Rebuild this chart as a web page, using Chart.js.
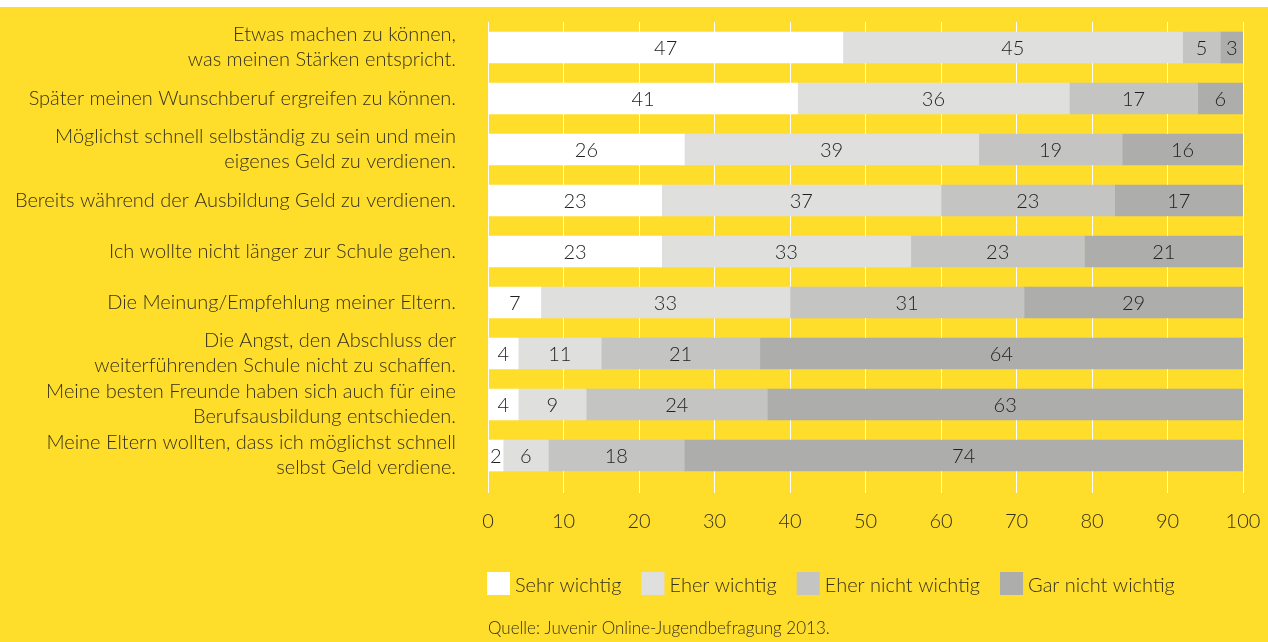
<!DOCTYPE html>
<html lang="de">
<head>
<meta charset="utf-8">
<script src="https://cdn.jsdelivr.net/npm/chart.js@4/dist/chart.umd.min.js"></script>
<style>
  html, body { margin: 0; padding: 0; background: #FFDD2B; }
  #top { height: 7px; background: #fff; }
  #wrap { width: 1268px; height: 635px; position: relative; }
</style>
</head>
<body>
<div id="top"></div>
<div id="wrap"><canvas id="grafico"></canvas></div>
<script>
// Gründe für die Berufsausbildung (Anteile in %)
const gruende = [
  ['Etwas machen zu können,', 'was meinen Stärken entspricht.'],
  'Später meinen Wunschberuf ergreifen zu können.',
  ['Möglichst schnell selbständig zu sein und mein', 'eigenes Geld zu verdienen.'],
  'Bereits während der Ausbildung Geld zu verdienen.',
  'Ich wollte nicht länger zur Schule gehen.',
  'Die Meinung/Empfehlung meiner Eltern.',
  ['Die Angst, den Abschluss der', 'weiterführenden Schule nicht zu schaffen.'],
  ['Meine besten Freunde haben sich auch für eine', 'Berufsausbildung entschieden.'],
  ['Meine Eltern wollten, dass ich möglichst schnell', 'selbst Geld verdiene.']
];

const sehrWichtig      = [47, 41, 26, 23, 23, 7, 4, 4, 2];
const eherWichtig      = [45, 36, 39, 37, 33, 33, 11, 9, 6];
const eherNichtWichtig = [5, 17, 19, 23, 23, 31, 21, 24, 18];
const garNichtWichtig  = [3, 6, 16, 17, 21, 29, 64, 63, 74];

const serienNamen = ['Sehr wichtig', 'Eher wichtig', 'Eher nicht wichtig', 'Gar nicht wichtig'];
const xTicks = [0, 10, 20, 30, 40, 50, 60, 70, 80, 90, 100];
const quelle = 'Quelle: Juvenir Online-Jugendbefragung 2013.';

const farben = ['#FFFFFF', '#DFDFDD', '#C4C4C2', '#ADADAB'];
const schrift = 'Lato, "Open Sans", sans-serif';
const textFarbe = '#34301c';

// Zahlen mittig in die Segmente schreiben
const wertePlugin = {
  id: 'werte',
  afterDatasetsDraw(chart) {
    const ctx = chart.ctx;
    ctx.save();
    ctx.font = '300 20px ' + schrift;
    ctx.fillStyle = '#1f1f1f';
    ctx.textAlign = 'center';
    ctx.textBaseline = 'middle';
    chart.data.datasets.forEach((ds, i) => {
      chart.getDatasetMeta(i).data.forEach((bar, j) => {
        ctx.fillText(ds.data[j], (bar.x + bar.base) / 2, bar.y + 1);
      });
    });
    ctx.restore();
  }
};

// Legende und Quelle unter dem Diagramm
const legendePlugin = {
  id: 'legende',
  afterDraw(chart) {
    const ctx = chart.ctx;
    const area = chart.chartArea;
    ctx.save();
    ctx.font = '300 20px ' + schrift;
    ctx.textBaseline = 'middle';
    ctx.textAlign = 'left';
    let x = area.left - 1;
    const y = area.bottom + 91;
    chart.data.datasets.forEach(ds => {
      ctx.fillStyle = ds.backgroundColor;
      ctx.fillRect(x, y, 23, 23);
      ctx.fillStyle = textFarbe;
      ctx.fillText(ds.label, x + 28, y + 14);
      x += 28 + ctx.measureText(ds.label).width + 20;
    });
    ctx.font = '300 17px ' + schrift;
    ctx.fillText(quelle, area.left, area.bottom + 148);
    ctx.restore();
  }
};

const reihen = [sehrWichtig, eherWichtig, eherNichtWichtig, garNichtWichtig];

new Chart(document.getElementById('grafico'), {
  type: 'bar',
  data: {
    labels: gruende,
    datasets: reihen.map((werte, i) => ({
      label: serienNamen[i],
      data: werte,
      backgroundColor: farben[i],
      borderWidth: 0,
      barThickness: 31
    }))
  },
  options: {
    indexAxis: 'y',
    responsive: true,
    maintainAspectRatio: false,
    animation: false,
    layout: { padding: { top: 15, right: 25, bottom: 0, left: 0 } },
    scales: {
      x: {
        stacked: true,
        min: 0,
        max: 100,
        afterBuildTicks: scale => { scale.ticks = xTicks.map(v => ({ value: v })); },
        afterFit: scale => {
          scale.height = 161;
          scale.paddingLeft = 0;
          scale.paddingRight = 0;
        },
        grid: { color: '#FFFFFF', lineWidth: 1, tickLength: 12, drawTicks: true },
        border: { display: false },
        ticks: {
          padding: 17,
          color: textFarbe,
          font: { family: schrift, size: 20, weight: 300 }
        }
      },
      y: {
        stacked: true,
        afterFit: scale => {
          scale.width = 488;
          scale.paddingTop = 0;
          scale.paddingBottom = 0;
        },
        grid: { display: false, drawTicks: false },
        border: { display: false },
        ticks: {
          autoSkip: false,
          padding: 32,
          color: textFarbe,
          font: { family: schrift, size: 20, weight: 300, lineHeight: 1.25 }
        }
      }
    },
    plugins: {
      legend: { display: false },
      tooltip: { enabled: false }
    }
  },
  plugins: [wertePlugin, legendePlugin]
});
</script>
</body>
</html>
